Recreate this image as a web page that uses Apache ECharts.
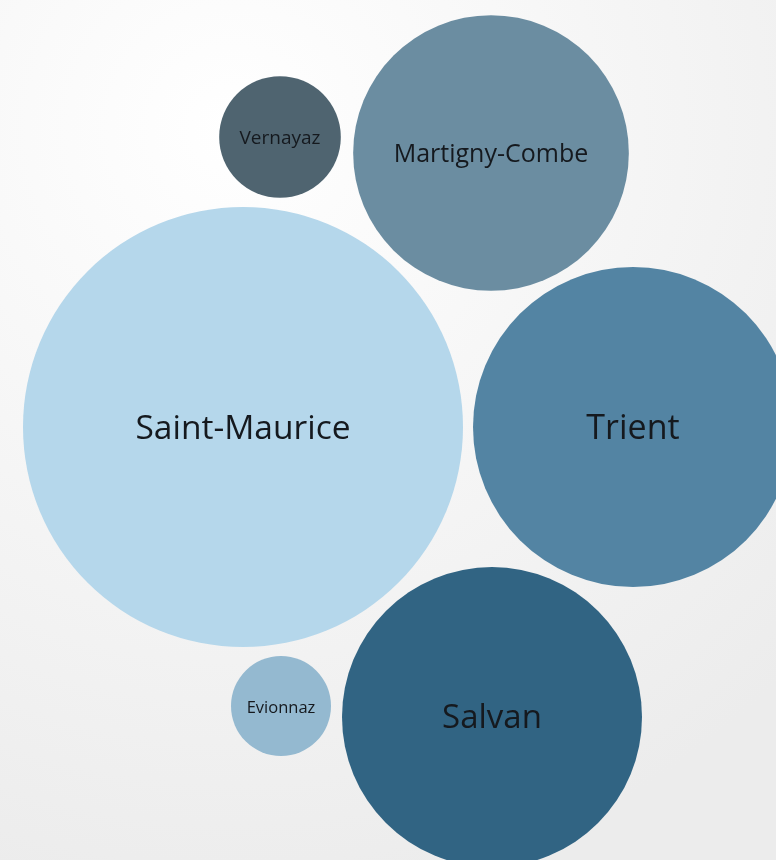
<!DOCTYPE html>
<html>
<head>
<meta charset="utf-8">
<script src="https://cdn.jsdelivr.net/npm/echarts@6/dist/echarts.min.js"></script>
<style>
html,body{margin:0;padding:0;background:#f4f4f4;}
#chart{width:776px;height:860px;}
</style>
</head>
<body>
<div id="chart"></div>
<script>
// Data
var names  = ['Saint-Maurice', 'Trient', 'Salvan', 'Martigny-Combe', 'Vernayaz', 'Evionnaz'];
var values = [484, 256, 225, 190, 37, 25];
// packed-bubble layout positions (data units)
var packX  = [243, 633, 492, 491, 280, 281];
var packY  = [427, 427, 717, 153, 137, 706];
var colors = ['#b5d7eb', '#5384a3', '#316483', '#6b8da1', '#4f6470', '#94b9d0'];
var fontSizes = [33.5, 34, 33, 25, 19, 16.5];

var data = names.map(function (n, i) {
  return {
    name: n,
    value: [packX[i], packY[i], values[i]],
    itemStyle: { color: colors[i], opacity: 1 },
    label: { fontSize: fontSizes[i] }
  };
});

var chart = echarts.init(document.getElementById('chart'), null, { renderer: 'canvas' });
chart.setOption({
  backgroundColor: {
    type: 'radial', x: 0.3, y: 0.15, r: 1,
    colorStops: [{ offset: 0, color: '#ffffff' }, { offset: 1, color: '#ececec' }]
  },
  animation: false,
  grid: { left: 0, right: 0, top: 0, bottom: 0 },
  xAxis: { type: 'value', min: 0, max: 776, show: false },
  yAxis: { type: 'value', min: 0, max: 860, inverse: true, show: false },
  series: [{
    type: 'scatter',
    symbol: 'circle',
    symbolSize: function (v) { return 2 * Math.sqrt(v[2]) * 10; },
    data: data,
    itemStyle: { opacity: 1 },
    label: {
      show: true,
      position: 'inside',
      offset: [0, 2],
      formatter: '{b}',
      color: '#15191e',
      fontFamily: 'Open Sans'
    },
    emphasis: { disabled: true }
  }]
});
</script>
</body>
</html>
